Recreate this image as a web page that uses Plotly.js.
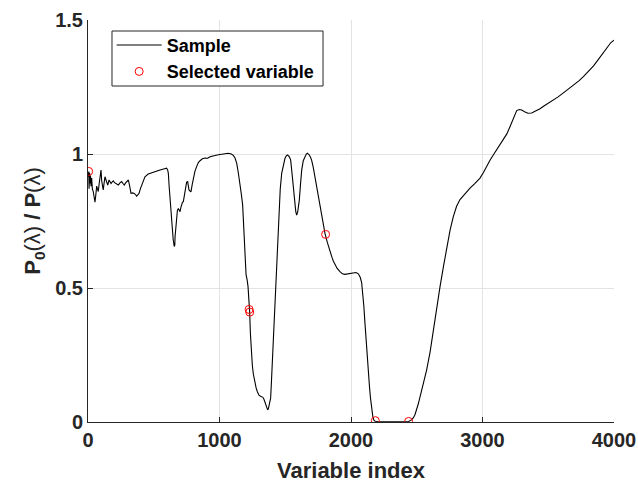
<!DOCTYPE html>
<html>
<head>
<meta charset="utf-8">
<script src="https://cdn.plot.ly/plotly-3.0.1.min.js"></script>
<style>
  html, body { margin: 0; padding: 0; background: #fff; }
  #chart { width: 638px; height: 487px; }
</style>
</head>
<body>
<div id="chart"></div>
<script>
// Spectrum ratio P0(lambda)/P(lambda) along the variable index
const sampleX = [
  0, 3, 6, 8, 12, 15, 19, 23, 28, 33, 40, 47, 53, 60, 66, 72, 78, 85, 91, 99,
  104, 109, 116, 122, 129, 137, 143, 150, 160, 168, 175, 183, 193, 202, 211, 220, 231, 243, 256, 266,
  276, 286, 294, 307, 317, 327, 340, 352, 362, 370, 380, 388, 398, 408, 420, 433, 458, 484, 516, 548,
  575, 598, 606, 611, 617, 624, 632, 641, 648, 656, 660, 662, 668, 674, 680, 687, 693, 700, 706, 712,
  718, 725, 733, 743, 750, 758, 763, 768, 776, 783, 792, 801, 813, 826, 839, 852, 870, 890, 910, 928,
  950, 970, 991, 1030, 1067, 1090, 1105, 1118, 1131, 1143, 1156, 1166, 1176, 1182, 1189, 1196, 1202, 1210, 1217, 1224,
  1229, 1235, 1242, 1250, 1257, 1267, 1278, 1288, 1300, 1312, 1321, 1330, 1338, 1350, 1360, 1366, 1372, 1380, 1389, 1395,
  1402, 1409, 1419, 1430, 1441, 1452, 1462, 1473, 1486, 1498, 1508, 1518, 1530, 1541, 1551, 1561, 1572, 1580, 1587, 1595,
  1602, 1607, 1615, 1625, 1637, 1650, 1660, 1668, 1680, 1690, 1700, 1713, 1726, 1742, 1759, 1780, 1802, 1820, 1840, 1855,
  1866, 1880, 1895, 1916, 1935, 1954, 1975, 1995, 2018, 2038, 2056, 2070, 2081, 2090, 2098, 2106, 2115, 2124, 2132, 2140,
  2148, 2157, 2166, 2175, 2185, 2200, 2250, 2300, 2350, 2400, 2438, 2460, 2475, 2487, 2500, 2512, 2525, 2550, 2575, 2601,
  2626, 2652, 2677, 2703, 2728, 2753, 2778, 2803, 2829, 2866, 2905, 2943, 2981, 3006, 3032, 3057, 3082, 3120, 3158, 3185,
  3209, 3235, 3250, 3260, 3280, 3298, 3320, 3345, 3374, 3405, 3437, 3470, 3505, 3539, 3575, 3610, 3640, 3665, 3700, 3735,
  3767, 3800, 3843, 3880, 3919, 3955, 3975, 4000
];
const sampleY = [
  0.93, 0.915, 0.935, 0.87, 0.93, 0.89, 0.92, 0.88, 0.91, 0.87, 0.86, 0.84, 0.82, 0.85, 0.88, 0.87, 0.86, 0.89, 0.91, 0.94,
  0.90, 0.88, 0.866, 0.89, 0.915, 0.903, 0.89, 0.884, 0.903, 0.895, 0.89, 0.895, 0.90, 0.893, 0.89, 0.885, 0.884, 0.892, 0.897, 0.89,
  0.884, 0.892, 0.897, 0.903, 0.88, 0.853, 0.855, 0.853, 0.848, 0.843, 0.848, 0.853, 0.87, 0.884, 0.90, 0.915, 0.925, 0.93, 0.935, 0.94,
  0.944, 0.947, 0.94, 0.928, 0.88, 0.828, 0.76, 0.704, 0.68, 0.655, 0.66, 0.691, 0.73, 0.766, 0.79, 0.797, 0.79, 0.785, 0.80, 0.816,
  0.82, 0.822, 0.85, 0.89, 0.895, 0.897, 0.88, 0.866, 0.862, 0.859, 0.885, 0.909, 0.935, 0.953, 0.968, 0.975, 0.982, 0.985, 0.984, 0.99,
  0.993, 0.995, 0.997, 1.0, 1.003, 1.0, 0.995, 0.985, 0.965, 0.93, 0.89, 0.85, 0.81, 0.75, 0.68, 0.60, 0.55, 0.53, 0.505, 0.45,
  0.415, 0.33, 0.26, 0.21, 0.18, 0.15, 0.128, 0.113, 0.10, 0.096, 0.094, 0.092, 0.085, 0.065, 0.05, 0.045, 0.05, 0.065, 0.09, 0.15,
  0.23, 0.306, 0.43, 0.555, 0.68, 0.803, 0.87, 0.928, 0.965, 0.984, 0.993, 0.996, 0.99, 0.978, 0.93, 0.878, 0.82, 0.785, 0.772, 0.785,
  0.81, 0.828, 0.88, 0.94, 0.975, 0.993, 1.0, 1.003, 0.998, 0.99, 0.978, 0.95, 0.915, 0.87, 0.822, 0.76, 0.704, 0.67, 0.635, 0.615,
  0.6, 0.585, 0.573, 0.561, 0.553, 0.551, 0.553, 0.556, 0.558, 0.558, 0.553, 0.54, 0.52, 0.48, 0.43, 0.37, 0.3, 0.24, 0.185, 0.135,
  0.09, 0.05, 0.02, 0.006, 0.003, 0.002, 0.001, 0.001, 0.001, 0.001, 0.002, 0.008, 0.016, 0.028, 0.045, 0.068, 0.094, 0.14, 0.194, 0.26,
  0.345, 0.425, 0.505, 0.58, 0.654, 0.715, 0.766, 0.805, 0.83, 0.853, 0.873, 0.89, 0.91, 0.93, 0.955, 0.977, 0.996, 1.025, 1.052, 1.075,
  1.102, 1.135, 1.155, 1.162, 1.166, 1.164, 1.158, 1.152, 1.153, 1.16, 1.169, 1.18, 1.19, 1.201, 1.213, 1.226, 1.237, 1.247, 1.26, 1.274,
  1.289, 1.305, 1.328, 1.352, 1.377, 1.402, 1.415, 1.425
];

// Variables picked by the selection procedure
const selectedX = [5, 1225, 1230, 1807, 2185, 2438];
const selectedY = [0.935, 0.42, 0.41, 0.70, 0.005, 0.002];

const xTicks = [0, 1000, 2000, 3000, 4000];
const xTickText = ['0', '1000', '2000', '3000', '4000'];
const yTicks = [0, 0.5, 1, 1.5];
const yTickText = ['0', '0.5', '1', '1.5'];

const ink = '#262626';
const gridCol = '#e3e3e3';
const fontFam = '"Liberation Sans", Arial, Helvetica, sans-serif';

const traces = [
  {
    x: sampleX, y: sampleY, type: 'scatter', mode: 'lines', name: 'Sample',
    line: { color: '#000000', width: 1.1 }
  },
  {
    x: selectedX, y: selectedY, type: 'scatter', mode: 'markers', name: 'Selected variable',
    marker: { symbol: 'circle-open', size: 8, color: '#ff0000', line: { color: '#ff0000', width: 1 } }
  }
];

const lam = '<span style="font-weight:normal">(λ)</span>';
const layout = {
  width: 638, height: 487,
  margin: { l: 88, r: 24, t: 20, b: 65 },
  paper_bgcolor: '#ffffff', plot_bgcolor: '#ffffff',
  font: { family: fontFam, color: ink, size: 20, weight: 'bold' },
  showlegend: true,
  legend: {
    x: 0.045, y: 0.983, xanchor: 'left', yanchor: 'top',
    bgcolor: 'rgba(0,0,0,0)', borderwidth: 0,
    font: { family: fontFam, size: 18, color: '#000000', weight: 'bold' },
    itemwidth: 45, tracegroupgap: 0
  },
  // legend frame: white box with a thin dark border
  shapes: [{
    type: 'rect', xref: 'paper', yref: 'paper',
    x0: 0.0456, x1: 0.4468, y0: 0.8358, y1: 0.9726,
    fillcolor: '#ffffff', line: { color: ink, width: 1 }, layer: 'above'
  }],
  xaxis: {
    range: [0, 4000], tickvals: xTicks, ticktext: xTickText,
    ticks: 'inside', ticklen: 5, tickcolor: ink, tickwidth: 1,
    showline: true, linecolor: ink, linewidth: 1, mirror: false,
    showgrid: true, gridcolor: gridCol, gridwidth: 1, zeroline: false,
    tickfont: { family: fontFam, size: 20, color: ink, weight: 'bold' },
    title: { text: 'Variable index', font: { family: fontFam, size: 22, color: ink, weight: 'bold' }, standoff: 12 },
    automargin: false
  },
  yaxis: {
    range: [0, 1.5], tickvals: yTicks, ticktext: yTickText,
    ticks: 'inside', ticklen: 5, tickcolor: ink, tickwidth: 1,
    showline: true, linecolor: ink, linewidth: 1, mirror: false,
    showgrid: true, gridcolor: gridCol, gridwidth: 1, zeroline: false,
    tickfont: { family: fontFam, size: 20, color: ink, weight: 'bold' },
    title: { text: 'P<sub>0</sub>' + lam + ' / P' + lam, font: { family: fontFam, size: 22, color: ink, weight: 'bold' }, standoff: 8 },
    automargin: false
  }
};

Plotly.newPlot('chart', traces, layout, { displayModeBar: false, staticPlot: true });
</script>
</body>
</html>
